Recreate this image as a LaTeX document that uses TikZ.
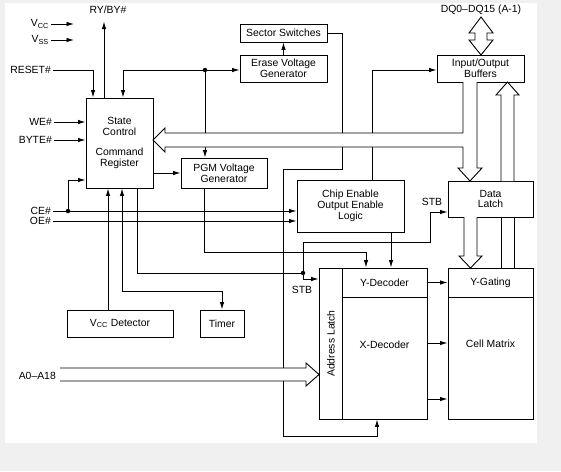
\documentclass[tikz,border=0pt]{standalone}
\usepackage{fontspec}
\setmainfont{Liberation Sans}
\usetikzlibrary{arrows.meta}

\tikzset{
  blk/.style={draw, fill=white, line width=0.9pt, inner sep=0pt, align=center, font=\fontsize{10.4}{10.8}\selectfont},
  lbl/.style={inner sep=2pt, font=\fontsize{10.4}{10.8}\selectfont},
  wire/.style={line width=0.9pt},
  sig/.style={wire, -{Latex[length=7.5pt,width=4.5pt]}},
  sigb/.style={wire, {Latex[length=7.5pt,width=4.5pt]}-{Latex[length=7.5pt,width=4.5pt]}},
  bus/.style={line width=0.9pt, fill=white, line join=miter},
  dot/.style={circle, fill, inner sep=0pt, minimum size=4.5pt},
}

\begin{document}
\begin{tikzpicture}[x=1pt,y=-1pt]
  \fill[black!6] (0,0) rectangle (561,471);
  \fill[white] (5,3) rectangle (537,443);
  \useasboundingbox (0,0) rectangle (561,471);

  % Nodes
  \node[blk, minimum width=67, minimum height=90] (sc) at (119.5,143) {State\\Control\\[10pt]Command\\Register};
  \node[blk, minimum width=87, minimum height=18] (ss) at (283.5,33) {Sector Switches};
  \node[blk, minimum width=87, minimum height=27] (evg) at (283.5,68.5) {Erase Voltage\\Generator};
  \node[blk, minimum width=86, minimum height=30] (pgm) at (224,173) {PGM Voltage\\Generator};
  \node[blk, minimum width=87, minimum height=27] (iob) at (480.5,68.5) {Input/Output\\Buffers};
  \node[blk, minimum width=107, minimum height=52] (ceoe) at (350.5,206) {Chip Enable\\Output Enable\\Logic};
  \node[blk, minimum width=85, minimum height=36] (dl) at (490.5,199) {Data\\Latch};
  \node[blk, minimum width=85, minimum height=29] (yg) at (490.5,282.5) {Y-Gating};
  \node[blk, minimum width=85, minimum height=122] (cm) at (490.5,358) {};
  \node[lbl] (cmtxt) at (490.5,344) {Cell Matrix};
  \node[blk, minimum width=23, minimum height=151] (al) at (330.5,343.5) {};
  \node[lbl, rotate=90] (altxt) at (331,343.5) {Address Latch};
  \node[blk, minimum width=85, minimum height=29] (yd) at (384.5,282.5) {Y-Decoder};
  \node[blk, minimum width=85, minimum height=122] (xd) at (384.5,358) {};
  \node[lbl] (xdtxt) at (384.5,345) {X-Decoder};
  \node[blk, minimum width=106, minimum height=27] (vccd) at (120,323.5) {V\textsubscript{CC} Detector};
  \node[blk, minimum width=44, minimum height=27] (tmr) at (222,323.5) {Timer};

  % Pins
  \node[lbl, anchor=east] (vcclbl) at (51,24) {V\textsubscript{CC}};
  \node[lbl, anchor=east] (vsslbl) at (51,40) {V\textsubscript{SS}};
  \node[lbl, anchor=east] (rstlbl) at (53,70) {RESET\#};
  \node[lbl, anchor=east] (welbl) at (54,122) {WE\#};
  \node[lbl, anchor=east] (bytelbl) at (54,140) {BYTE\#};
  \node[lbl, anchor=east] (celbl) at (53,211) {CE\#};
  \node[lbl, anchor=east] (oelbl) at (53,221) {OE\#};
  \node[lbl, anchor=east] (addrlbl) at (58,376) {A0--A18};
  \node[lbl] (rybylbl) at (108,10) {RY/BY\#};
  \node[lbl] (dqlbl) at (481,10) {DQ0--DQ15 (A-1)};
  \node[lbl] (stba) at (302,290) {STB};
  \node[lbl] (stbb) at (432,202) {STB};

  \node[dot] (j1) at (205,70) {};
  \node[dot] (j2) at (68,211) {};
  \node[dot] (j3) at (303,273) {};

  % Edges
  \draw[sig] (vcclbl.east) -- ++(23,0);
  \draw[sig] (vsslbl.east) -- ++(23,0);
  \draw[sig] ([xshift=-15.5pt]sc.north) -- ++(0,-76);
  \draw[sig] (rstlbl.east) -| ([xshift=-26.5pt]sc.north);
  \draw[sig] (j1.center) -- (evg.west |- j1);
  \draw[sig] (j1.center) -| ([xshift=3.5pt]sc.north);
  \draw[sig] (j1.center) -- (j1 |- pgm.north);
  \draw[sig] (evg) -- (ss);
  \draw[sig] (welbl.east) -- (welbl.east -| sc.west);
  \draw[sig] (bytelbl.east) -- (bytelbl.east -| sc.west);
  \draw[sig] (celbl.east) -- (celbl.east -| ceoe.west);
  \draw[sig] (oelbl.east) -- (oelbl.east -| ceoe.west);
  \draw[sig] (j2.center) |- ([yshift=-37pt]sc.west);
  \draw[sig] (sc.east |- pgm.west) -- (pgm.west);
  \draw[sig] ([xshift=-12pt]vccd.north) -- ([xshift=-12pt]vccd.north |- sc.south);
  \draw[sigb] ([xshift=2.5pt]sc.south) -- ++(0,103) -| (tmr.north);
  \draw[wire] ([xshift=17.5pt]sc.south) |- (j3.center);
  \draw[sig] (j3.center) -- ++(0,6) -- (al.west |- 0,279);
  \draw[sig] (j3.center) |- (430,242) |- (dl.west |- 0,212);
  \draw[sig] ([xshift=-20pt]pgm.south) -- ++(0,64) -| ([xshift=-18.5pt]yd.north);
  \draw[sig] ([xshift=40.5pt]ceoe.south) -- ([xshift=6.5pt]yd.north);
  \draw[sig] ([xshift=21.5pt]ceoe.north) |- (iob.west |- j1);
  \draw[sig] (ss.east) -| (342,169) -| (283,436) -| ([xshift=-7.5pt]xd.south);
  \draw[sig] (yd) -- (yg);
  \draw[sig] ([yshift=15pt]xd.east) -- ([yshift=15pt]cm.west);
  \draw[sig] ([yshift=-41pt]xd.east) -- ([yshift=-41pt]cm.west);

  % Buses
  \draw[bus] (481,17) -- (493,33) -- (487,33) -- (487,40) -- (493,40) -- (481,55)
    -- (469,40) -- (475,40) -- (475,33) -- (469,33) -- cycle;
  \draw[bus] (463,82) -- (463,133) -- (165,133) -- (165,128) -- (153,140) -- (165,152)
    -- (165,147) -- (463,147) -- (463,168) -- (458,168) -- (470,181) -- (482,168)
    -- (477,168) -- (477,82);
  \draw[bus] (501,181) -- (501,95) -- (496,95) -- (507.5,82) -- (519,95) -- (514,95) -- (514,181);
  \draw[wire] (501,217) -- (501,268);
  \draw[wire] (514,217) -- (514,268);
  \draw[bus] (464,217) -- (464,256) -- (459,256) -- (470.5,268) -- (482,256) -- (477,256) -- (477,217);
  \draw[bus] (60,368) -- (306,368) -- (306,363) -- (319,374.5) -- (306,386) -- (306,381) -- (60,381);
\end{tikzpicture}
\end{document}
